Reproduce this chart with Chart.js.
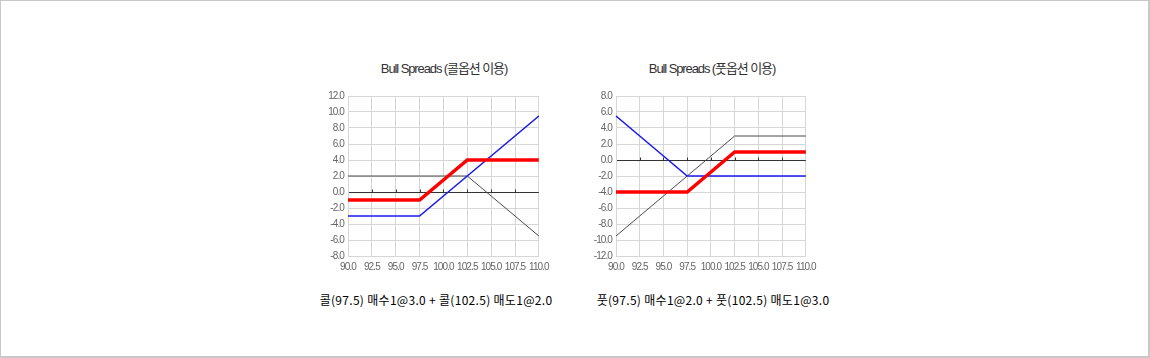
<!DOCTYPE html>
<html>
<head>
<meta charset="utf-8">
<script src="https://cdn.jsdelivr.net/npm/chart.js@4"></script>
<style>
  html, body { margin: 0; padding: 0; background: #fff; }
  #frame {
    position: relative; width: 1150px; height: 358px; box-sizing: border-box;
    border: 1px solid #c8c8c8; border-right-width: 2px; border-bottom-width: 2px;
  }
  .box { position: absolute; }
  .title {
    position: absolute; top: 57px; width: 192px; text-align: center;
    font: 13px "Liberation Sans", "Noto Sans CJK KR", sans-serif;
    color: #333; letter-spacing: -1.1px; white-space: nowrap;
  }
  .caption {
    position: absolute; top: 290px; width: 300px; text-align: center;
    font: 12px "Noto Sans CJK KR", "DejaVu Sans", sans-serif; color: #000;
    letter-spacing: 0.3px; white-space: nowrap;
  }
</style>
</head>
<body>
<div id="frame">
  <div class="title" style="left:347px">Bull Spreads (콜옵션 이용)</div>
  <div class="title" style="left:615px">Bull Spreads (풋옵션 이용)</div>
  <div class="box" style="left:300px; top:85px; width:255px; height:190px"><canvas id="callChart"></canvas></div>
  <div class="box" style="left:568px; top:85px; width:254px; height:190px"><canvas id="putChart"></canvas></div>
  <div class="caption" style="left:285px">콜(97.5) 매수1@3.0 + 콜(102.5) 매도1@2.0</div>
  <div class="caption" style="left:562px">풋(97.5) 매수1@2.0 + 풋(102.5) 매도1@3.0</div>
</div>
<script>
// 기초자산 가격 (x축)
const prices = ['90.0', '92.5', '95.0', '97.5', '100.0', '102.5', '105.0', '107.5', '110.0'];

// 콜옵션 이용
const callBuy = [-3, -3, -3, -3, -0.5, 2, 4.5, 7, 9.5];
const callSell = [2, 2, 2, 2, 2, 2, -0.5, -3, -5.5];
const callSpread = [-1, -1, -1, -1, 1.5, 4, 4, 4, 4];

// 풋옵션 이용
const putBuy = [5.5, 3, 0.5, -2, -2, -2, -2, -2, -2];
const putSell = [-9.5, -7, -4.5, -2, 0.5, 3, 3, 3, 3];
const putSpread = [-4, -4, -4, -4, -1.5, 1, 1, 1, 1];

const tickFont = {family: '"Liberation Sans", sans-serif', size: 10};

// 눈금 글자 간격 좁히기
const narrowText = {
    id: 'narrowText',
    beforeDraw(chart) { chart.ctx.letterSpacing = '-0.9px'; }
};

// 0 기준선 위의 작은 눈금
const zeroTicks = {
    id: 'zeroTicks',
    afterDatasetsDraw(chart) {
        const x = chart.scales.x, y = chart.scales.y;
        const y0 = Math.round(y.getPixelForValue(0)) + 0.5;
        const ctx = chart.ctx;
        ctx.save();
        ctx.strokeStyle = '#333';
        ctx.lineWidth = 1;
        ctx.beginPath();
        for (let i = 1; i < prices.length - 1; i++) {
            const px = Math.round(x.getPixelForValue(i)) + 0.5;
            ctx.moveTo(px, y0);
            ctx.lineTo(px, y0 - 3);
        }
        ctx.stroke();
        ctx.restore();
    }
};

function makeChart(id, buy, sell, spread, yMin, yMax) {
    const ctx = document.getElementById(id).getContext('2d');
    return new Chart(ctx, {
        type: 'line',
        data: {
            labels: prices,
            datasets: [
                {data: spread, borderColor: '#ff0000', borderWidth: 3.5},
                {data: buy, borderColor: '#1a1aeb', borderWidth: 1.6},
                {data: sell, borderColor: '#4a4a4a', borderWidth: 1}
            ]
        },
        options: {
            responsive: true,
            maintainAspectRatio: false,
            animation: false,
            layout: {padding: {top: 10, right: 16, left: 0, bottom: 0}},
            elements: {point: {radius: 0}, line: {tension: 0}},
            plugins: {legend: {display: false}, tooltip: {enabled: false}},
            scales: {
                x: {
                    grid: {color: '#d6d6d6', drawTicks: false},
                    border: {color: '#d6d6d6'},
                    ticks: {color: '#666', font: tickFont, padding: 5, maxRotation: 0, autoSkip: false},
                    afterFit(s) { s.height = 20; }
                },
                y: {
                    min: yMin, max: yMax,
                    grid: {
                        color: c => c.tick && c.tick.value === 0 ? '#333' : '#d6d6d6',
                        drawTicks: false
                    },
                    border: {color: '#d6d6d6'},
                    ticks: {
                        stepSize: 2, autoSkip: false, color: '#666', font: tickFont, padding: 4,
                        callback: v => v.toFixed(1)
                    },
                    afterFit(s) { s.width = 47; }
                }
            }
        },
        plugins: [narrowText, zeroTicks]
    });
}

makeChart('callChart', callBuy, callSell, callSpread, -8, 12);
makeChart('putChart', putBuy, putSell, putSpread, -12, 8);
</script>
</body>
</html>
